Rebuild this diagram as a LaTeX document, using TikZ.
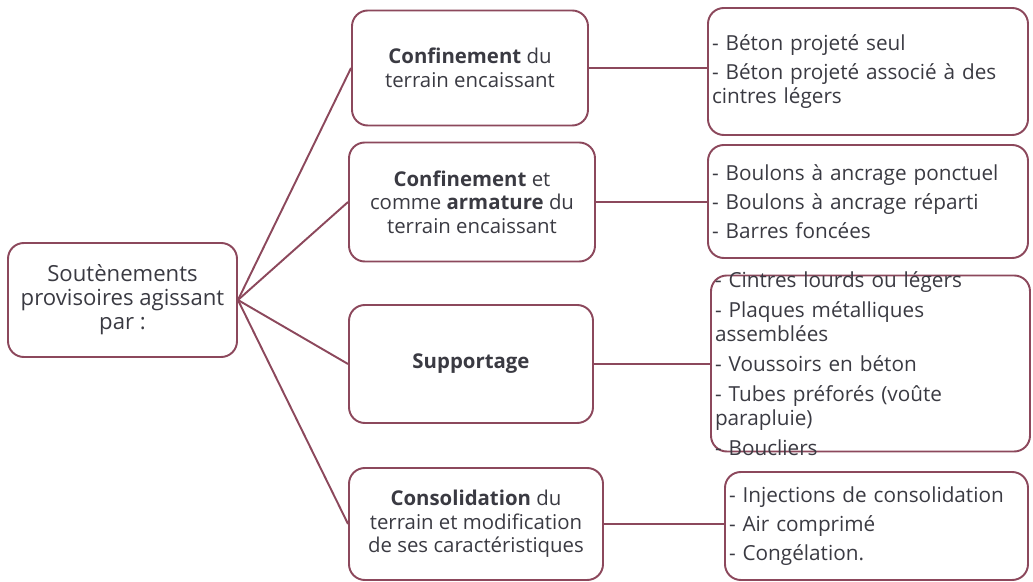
\documentclass[tikz,border=0pt]{standalone}
\usepackage{fontspec}
\setmainfont{Open Sans}
\usepackage{tikz}
\usetikzlibrary{positioning}

\definecolor{bordeaux}{RGB}{140,72,92}
\definecolor{encre}{RGB}{58,58,66}

\tikzset{
  boite/.style={draw=bordeaux, line width=1.1pt, rounded corners=9pt,
                text=encre, align=center, inner sep=2pt,
                font=\fontsize{11.6}{13.4}\selectfont},
  racinebox/.style={boite, font=\fontsize{12.6}{13.6}\selectfont},
  liste/.style={boite, align=left, inner xsep=0.08cm,
                font=\fontsize{11.8}{13.6}\selectfont},
  lien/.style={draw=bordeaux, line width=1.1pt},
}

\begin{document}
\begin{tikzpicture}
  \useasboundingbox (0,0) rectangle (20.66,-11.64);

  \node[racinebox, minimum width=4.58cm, minimum height=2.28cm] (racine) at (2.45,-6.00)
       {Soutènements\\provisoires agissant\\par :};

  \node[boite, minimum width=4.72cm, minimum height=2.30cm] (confin) at (9.40,-1.36)
       {\textbf{Confinement} du\\terrain encaissant};
  \node[boite, minimum width=4.92cm, minimum height=2.38cm] (armat) at (9.44,-4.04)
       {\textbf{Confinement} et\\comme \textbf{armature} du\\terrain encaissant};
  \node[boite, minimum width=4.88cm, minimum height=2.36cm] (support) at (9.42,-7.28)
       {\textbf{Supportage}};
  \node[boite, minimum width=5.08cm, minimum height=2.24cm] (consol) at (9.52,-10.48)
       {\textbf{Consolidation} du\\terrain et modification\\de ses caractéristiques};

  \node[liste, text width=6.24cm, minimum height=2.54cm] (beton) at (17.36,-1.43)
       {- Béton projeté seul\\[3pt]- Béton projeté associé à des\\cintres légers};
  \node[liste, text width=6.24cm, minimum height=2.26cm] (boulons) at (17.36,-4.03)
       {- Boulons à ancrage ponctuel\\[3pt]- Boulons à ancrage réparti\\[3pt]- Barres foncées};
  % texte qui deborde du cadre, comme sur l'original
  \node[liste, text width=6.22cm, minimum height=3.50cm, inner ysep=-2.3pt] (cintres) at (17.41,-7.27)
       {- Cintres lourds ou légers\\[3.5pt]- Plaques métalliques\\assemblées\\[3.5pt]- Voussoirs en béton\\[3.5pt]- Tubes préforés (voûte\\parapluie)\\[3.5pt]- Boucliers};
  \node[liste, text width=5.90cm, minimum height=2.16cm] (inject) at (17.53,-10.52)
       {- Injections de consolidation\\[3pt]- Air comprimé\\[3pt]- Congélation.};

  \draw[lien] (racine.east) -- (confin.west);
  \draw[lien] (racine.east) -- (armat.west);
  \draw[lien] (racine.east) -- (support.west);
  \draw[lien] (racine.east) -- (consol.west);

  \draw[lien] (confin.east) -- (confin.east -| beton.west);
  \draw[lien] (armat.east) -- (armat.east -| boulons.west);
  \draw[lien] (support.east) -- (support.east -| cintres.west);
  \draw[lien] (consol.east) -- (consol.east -| inject.west);
\end{tikzpicture}
\end{document}
